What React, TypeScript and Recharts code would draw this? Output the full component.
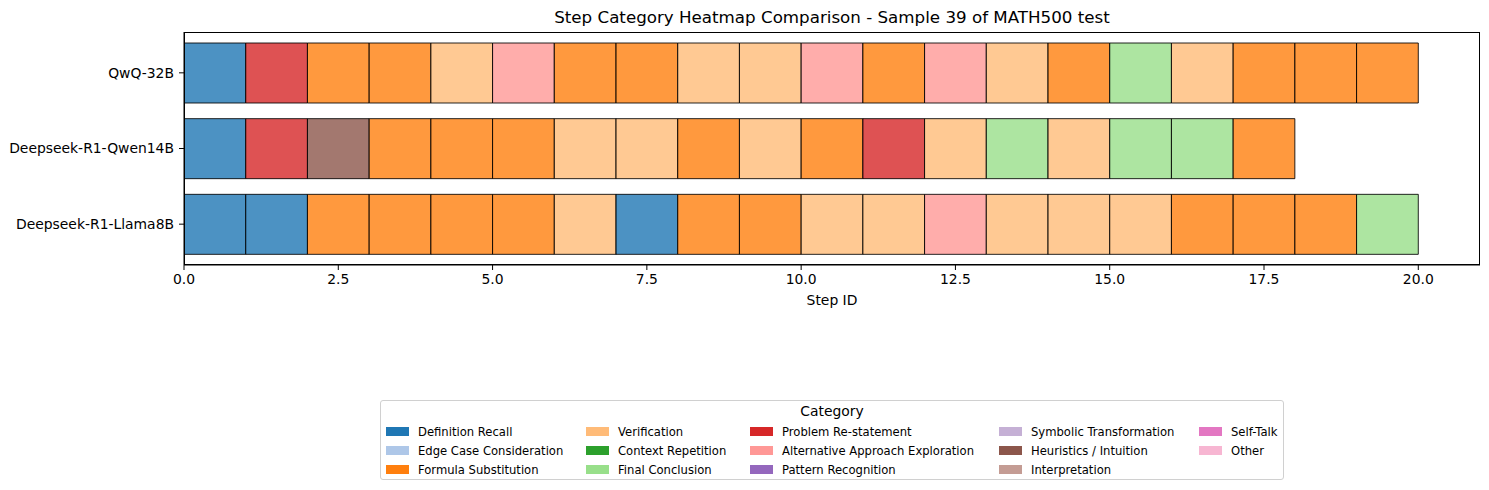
import React from "react";
import { BarChart, Bar, XAxis, YAxis, Cell } from "recharts";

// categories in legend order (column-major), with tab20 colours
const CATEGORIES = [
  "Definition Recall",
  "Edge Case Consideration",
  "Formula Substitution",
  "Verification",
  "Context Repetition",
  "Final Conclusion",
  "Problem Re-statement",
  "Alternative Approach Exploration",
  "Pattern Recognition",
  "Symbolic Transformation",
  "Heuristics / Intuition",
  "Interpretation",
  "Self-Talk",
  "Other",
];
const COLORS = [
  "#1f77b4", "#aec7e8", "#ff7f0e", "#ffbb78", "#2ca02c", "#98df8a", "#d62728",
  "#ff9896", "#9467bd", "#c5b0d5", "#8c564b", "#c49c94", "#e377c2", "#f7b6d2",
];

const MODELS = ["QwQ-32B", "Deepseek-R1-Qwen14B", "Deepseek-R1-Llama8B"];

// step sequences per model (category names)
const DR = "Definition Recall";
const FS = "Formula Substitution";
const V = "Verification";
const FC = "Final Conclusion";
const PR = "Problem Re-statement";
const AA = "Alternative Approach Exploration";
const HI = "Heuristics / Intuition";

const QWQ_STEPS = [DR, PR, FS, FS, V, AA, FS, FS, V, V, AA, FS, AA, V, FS, FC, V, FS, FS, FS];
const QWEN14_STEPS = [DR, PR, HI, FS, FS, FS, V, V, FS, V, FS, PR, V, FC, V, FC, FC, FS];
const LLAMA8_STEPS = [DR, DR, FS, FS, FS, FS, V, DR, FS, FS, V, V, AA, V, V, V, FS, FS, FS, FC];

const SEQUENCES = [QWQ_STEPS, QWEN14_STEPS, LLAMA8_STEPS];
const STEP_WIDTH = 1;
const X_TICKS = [0, 2.5, 5, 7.5, 10, 12.5, 15, 17.5, 20];

const FONT = "DejaVu Sans, sans-serif";

const maxSteps = Math.max(...SEQUENCES.map((s) => s.length));
const rows = MODELS.map((model, i) => {
  const r: Record<string, any> = { model };
  SEQUENCES[i].forEach((_, j) => {
    r[`s${j}`] = STEP_WIDTH;
  });
  return r;
});

const colorOf = (cat?: string) => COLORS[Math.max(0, CATEGORIES.indexOf(cat || ""))];

function CategoryLegend() {
  const cols: number[][] = [];
  for (let c = 0; c < Math.ceil(CATEGORIES.length / 3); c++) {
    cols.push([0, 1, 2].map((k) => c * 3 + k).filter((k) => k < CATEGORIES.length));
  }
  const colWidths = [200, 164, 249, 200, 80];
  return (
    <div
      style={{
        position: "absolute",
        left: 380,
        top: 400,
        width: 904,
        height: 80,
        boxSizing: "border-box",
        border: "1px solid #d0d0d0",
        borderRadius: 3,
        fontFamily: FONT,
        color: "#000",
      }}
    >
      <div style={{ textAlign: "center", fontSize: 13.9, lineHeight: "16px", marginTop: 2 }}>
        Category
      </div>
      <div style={{ display: "flex", paddingLeft: 5, marginTop: 3 }}>
        {cols.map((col, ci) => (
          <div key={ci} style={{ width: colWidths[ci] }}>
            {col.map((k) => (
              <div key={k} style={{ display: "flex", alignItems: "center", height: 19 }}>
                <span
                  style={{
                    display: "inline-block",
                    width: 23,
                    height: 9,
                    background: COLORS[k],
                    marginRight: 9,
                  }}
                />
                <span style={{ fontSize: 11.6, whiteSpace: "nowrap" }}>{CATEGORIES[k]}</span>
              </div>
            ))}
          </div>
        ))}
      </div>
    </div>
  );
}

export default function App() {
  return (
    <div style={{ position: "absolute", left: 0, top: 0, width: 1489, height: 490, background: "#fff" }}>
      <div
        style={{
          position: "absolute",
          left: 184,
          width: 1296,
          top: 6,
          textAlign: "center",
          fontFamily: FONT,
          fontSize: 16.7,
          lineHeight: "22px",
          color: "#000",
        }}
      >
        Step Category Heatmap Comparison - Sample 39 of MATH500 test
      </div>
      <BarChart
        width={1489}
        height={490}
        data={rows}
        layout="vertical"
        margin={{ top: 32, right: 9, bottom: 185, left: 0 }}
      >
        <XAxis
          type="number"
          domain={[0, 21]}
          ticks={X_TICKS}
          tickFormatter={(v: number) => v.toFixed(1)}
          allowDataOverflow
          height={40}
          tickSize={5}
          tickMargin={4}
          stroke="#000"
          tick={{ fill: "#000", fontSize: 13.9, fontFamily: FONT }}
          label={{
            value: "Step ID",
            position: "insideBottom",
            offset: 0,
            fill: "#000",
            fontSize: 13.9,
            fontFamily: FONT,
          }}
        />
        <YAxis
          type="category"
          dataKey="model"
          width={184}
          padding={{ top: 3, bottom: 3 }}
          tickSize={5}
          tickMargin={5}
          stroke="#000"
          tick={{ fill: "#000", fontSize: 13.9, fontFamily: FONT }}
        />
        {Array.from({ length: maxSteps }, (_, j) => (
          <Bar
            key={j}
            dataKey={`s${j}`}
            stackId="steps"
            barSize={60}
            isAnimationActive={false}
          >
            {rows.map((_, i) => (
              <Cell
                key={i}
                fill={colorOf(SEQUENCES[i][j])}
                fillOpacity={0.8}
                stroke="#000"
                strokeOpacity={0.85}
                strokeWidth={1}
              />
            ))}
          </Bar>
        ))}
      </BarChart>
      <div
        style={{
          position: "absolute",
          left: 184,
          top: 32,
          width: 1296,
          height: 233,
          boxSizing: "border-box",
          border: "1px solid #000",
          pointerEvents: "none",
        }}
      />
      <CategoryLegend />
    </div>
  );
}
